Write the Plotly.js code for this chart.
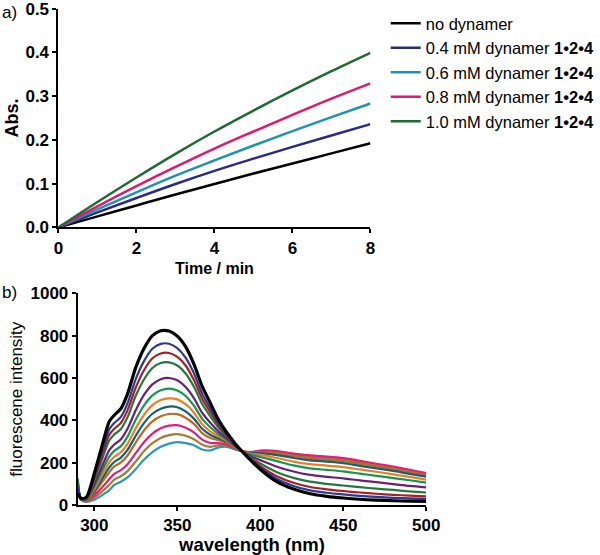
<!DOCTYPE html>
<html>
<head>
<meta charset="utf-8">
<script src="https://cdn.plot.ly/plotly-3.0.1.min.js"></script>
<style>html,body{margin:0;padding:0;background:#fff;overflow:hidden;}#chart{width:600px;height:555px;}</style>
</head>
<body>
<div id="chart"></div>
<script>
// ---- panel a) absorbance vs time ----
const time = [0, 1, 2, 3, 4, 5, 6, 7, 8];
const absNone = [0, 0.025, 0.050, 0.075, 0.099, 0.123, 0.146, 0.169, 0.192];
const abs04 = [0, 0.034, 0.067, 0.099, 0.129, 0.157, 0.184, 0.210, 0.236];
const abs06 = [0, 0.041, 0.080, 0.118, 0.153, 0.187, 0.220, 0.252, 0.283];
const abs08 = [0, 0.048, 0.094, 0.138, 0.180, 0.219, 0.257, 0.294, 0.329];
const abs10 = [0, 0.058, 0.114, 0.168, 0.219, 0.267, 0.313, 0.357, 0.399];
const legendNames = ["no dynamer", "0.4 mM dynamer <b>1•2•4</b>", "0.6 mM dynamer <b>1•2•4</b>", "0.8 mM dynamer <b>1•2•4</b>", "1.0 mM dynamer <b>1•2•4</b>"];

// ---- panel b) fluorescence spectra ----
const wavelength = [290, 292, 295, 300, 305, 309, 312, 316, 320, 325, 330, 335, 340, 345, 350, 355, 360, 365, 370, 375, 380, 385, 390, 395, 400, 410, 420, 430, 440, 450, 460, 470, 480, 490, 500];
const fBlack  = [55, 32, 35, 150, 290, 395, 424, 455, 525, 650, 740, 800, 823, 822, 798, 748, 665, 560, 480, 400, 340, 288, 245, 205, 168, 110, 75, 53, 41, 33, 27, 23, 20, 18, 17];
const fNavy   = [85, 31, 33, 136, 263, 358, 387, 416, 480, 596, 681, 738, 761, 762, 741, 696, 622, 526, 455, 386, 333, 285, 246, 209, 176, 123, 90, 69, 58, 50, 43, 38, 34, 31, 29];
const fRed    = [70, 31, 31, 126, 243, 332, 360, 388, 448, 556, 638, 693, 716, 718, 700, 659, 590, 502, 437, 375, 327, 283, 246, 213, 184, 136, 105, 85, 74, 66, 59, 53, 48, 44, 41];
const fDkGreen= [120, 30, 29, 115, 223, 305, 333, 359, 415, 517, 594, 647, 671, 674, 659, 621, 559, 477, 418, 364, 322, 281, 247, 219, 196, 155, 128, 110, 100, 92, 84, 77, 71, 64, 59];
const fPurple = [90, 29, 27, 98, 189, 259, 286, 311, 360, 449, 521, 570, 594, 600, 589, 557, 505, 435, 387, 346, 313, 277, 249, 228, 212, 181, 158, 142, 133, 126, 116, 108, 99, 90, 83];
const fGreen  = [125, 28, 25, 86, 166, 229, 256, 278, 323, 404, 471, 518, 542, 550, 541, 515, 469, 407, 366, 334, 307, 275, 250, 236, 227, 207, 187, 173, 166, 159, 148, 138, 127, 117, 106];
const fOrange = [95, 28, 23, 75, 146, 201, 228, 249, 289, 363, 427, 472, 496, 504, 499, 476, 436, 382, 347, 324, 301, 272, 251, 241, 237, 222, 205, 193, 186, 179, 168, 157, 145, 133, 120];
const fTeal   = [110, 27, 22, 66, 128, 177, 203, 224, 260, 328, 388, 431, 455, 465, 462, 442, 408, 360, 331, 314, 296, 271, 251, 245, 245, 236, 222, 211, 205, 198, 185, 173, 161, 147, 134];
const fDkOrange=[80, 27, 20, 58, 112, 155, 182, 201, 234, 296, 353, 395, 419, 430, 429, 412, 383, 340, 316, 306, 292, 269, 252, 247, 250, 243, 230, 219, 214, 207, 194, 182, 169, 154, 140];
const fPink   = [100, 26, 18, 45, 86, 122, 147, 165, 193, 246, 298, 337, 362, 375, 377, 365, 343, 309, 293, 292, 285, 266, 252, 251, 257, 255, 243, 234, 229, 222, 209, 195, 182, 166, 151];
const fBrown  = [75, 26, 17, 35, 66, 95, 120, 136, 160, 206, 255, 292, 317, 330, 335, 327, 311, 285, 275, 282, 280, 264, 252, 250, 255, 252, 240, 230, 225, 218, 205, 192, 178, 163, 148];
const fCyan   = [115, 25, 15, 25, 48, 70, 95, 110, 130, 170, 215, 250, 275, 290, 297, 292, 282, 262, 258, 272, 275, 262, 252, 249, 253, 249, 237, 227, 221, 214, 201, 189, 175, 160, 145];

const FONT = "Liberation Sans, Arial, Helvetica, sans-serif";
const topColors = ["#000000", "#2b2a87", "#1e94ad", "#e2186e", "#206b34"];
const topSeries = [absNone, abs04, abs06, abs08, abs10];

const traces = [];
topSeries.forEach((s, i) => {
  traces.push({
    x: time, y: s, type: "scatter", mode: "lines", name: legendNames[i],
    line: {color: topColors[i], width: 2.5, shape: "spline", smoothing: 1},
    xaxis: "x", yaxis: "y", showlegend: true, hoverinfo: "skip"
  });
});

const spectra = [
  [fCyan, "#2699bd", 2.2], [fBrown, "#a87a2c", 2.2], [fPink, "#e11f7b", 2.2],
  [fDkOrange, "#c0681f", 2.2], [fTeal, "#12617a", 2.2], [fOrange, "#f47a20", 2.2],
  [fGreen, "#17964c", 2.2], [fPurple, "#6e1d78", 2.2], [fDkGreen, "#1f7a3b", 2.2],
  [fRed, "#a81e22", 2.2], [fNavy, "#2b3990", 2.2], [fBlack, "#000000", 3.2]
];
spectra.forEach(([s, c, w]) => {
  traces.push({
    x: wavelength, y: s, type: "scatter", mode: "lines",
    line: {color: c, width: w, shape: "spline", smoothing: 0.8},
    xaxis: "x2", yaxis: "y2", showlegend: false, hoverinfo: "skip"
  });
});

const tickFont = {family: FONT, size: 17, color: "#000", weight: "bold"};
const axisCommon = {
  showline: true, linewidth: 2, linecolor: "#000", ticks: "outside", ticklen: 4,
  tickwidth: 2, tickcolor: "#000", showgrid: false, zeroline: false, tickfont: tickFont,
  fixedrange: true, ticklabeloverflow: "allow", automargin: false
};

const layout = {
  width: 600, height: 555,
  margin: {l: 0, r: 0, t: 0, b: 0},
  paper_bgcolor: "#fff", plot_bgcolor: "#fff",
  font: {family: FONT, color: "#000"},
  showlegend: true,
  legend: {
    x: 0.645, xanchor: "left", y: 0.989, yanchor: "top",
    font: {family: FONT, size: 16.5, color: "#000"},
    bgcolor: "rgba(0,0,0,0)", borderwidth: 0, tracegroupgap: 0
  },
  xaxis: Object.assign({}, axisCommon, {
    domain: [0.0978, 0.6195], range: [0, 8], tickvals: [0, 2, 4, 6, 8], anchor: "y",
    title: {text: "Time / min", font: {family: FONT, size: 16, weight: "bold"}, standoff: 6}
  }),
  yaxis: Object.assign({}, axisCommon, {
    domain: [0.5904, 0.9845], range: [0, 0.5], tickvals: [0, 0.1, 0.2, 0.3, 0.4, 0.5],
    ticktext: ["0.0", "0.1", "0.2", "0.3", "0.4", "0.5"], anchor: "x",
    title: {text: "Abs.", font: {family: FONT, size: 18, weight: "bold"}, standoff: 2}
  }),
  xaxis2: Object.assign({}, axisCommon, {
    domain: [0.13, 0.7128], range: [290, 500], tickvals: [300, 350, 400, 450, 500], anchor: "y2",
    title: {text: "wavelength (nm)", font: {family: FONT, size: 18.5, weight: "bold"}, standoff: 1}
  }),
  yaxis2: Object.assign({}, axisCommon, {
    domain: [0.0901, 0.4715], range: [0, 1000], tickvals: [0, 200, 400, 600, 800, 1000], anchor: "x2",
    title: {text: "fluorescene intensity", font: {family: FONT, size: 17}, standoff: 4}
  }),
  annotations: [
    {text: "a)", x: 0, y: 1 - 12/555, xref: "paper", yref: "paper", xanchor: "left", yanchor: "middle",
     showarrow: false, font: {family: FONT, size: 17, color: "#000"}},
    {text: "b)", x: 0, y: 1 - 292/555, xref: "paper", yref: "paper", xanchor: "left", yanchor: "middle",
     showarrow: false, font: {family: FONT, size: 17, color: "#000"}}
  ]
};

Plotly.newPlot("chart", traces, layout, {staticPlot: true, displayModeBar: false});
</script>
</body>
</html>
